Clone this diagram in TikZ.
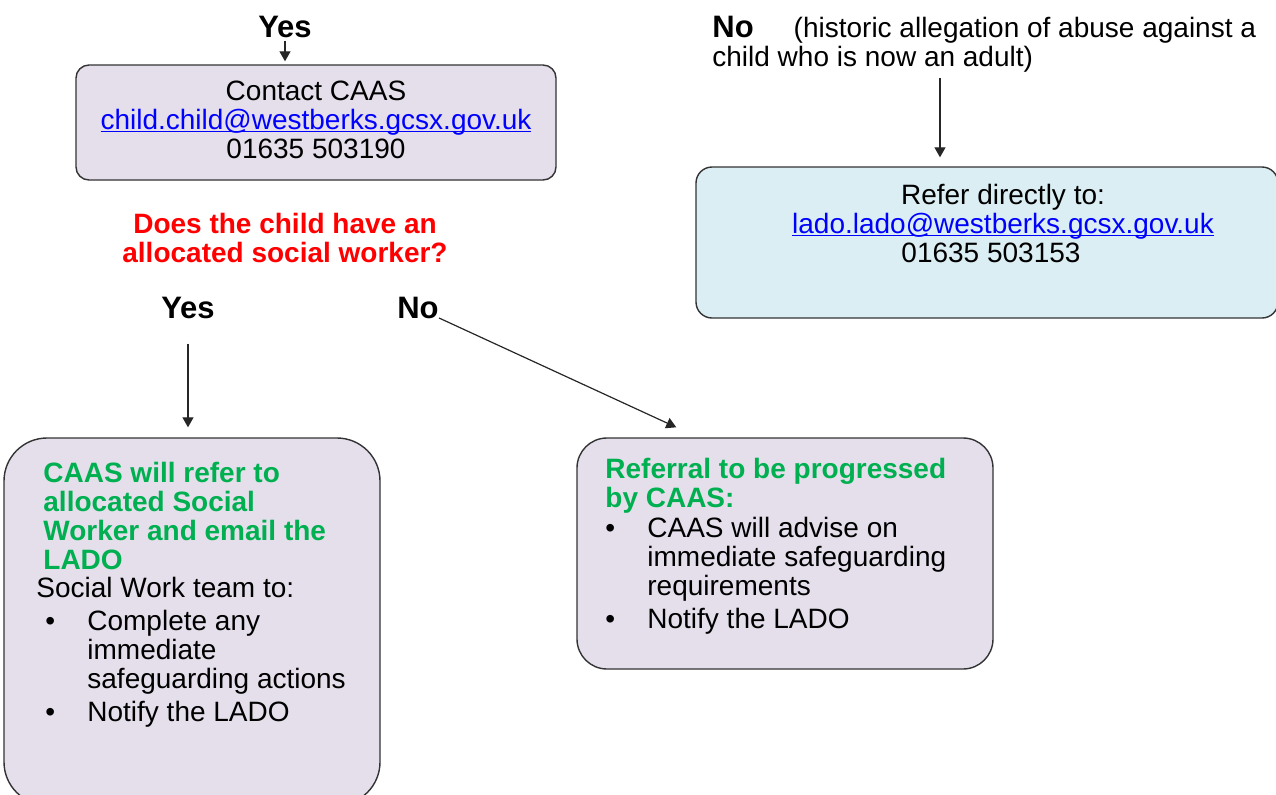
\documentclass[tikz,border=0pt]{standalone}
\usepackage{fontspec}
\setmainfont{Liberation Sans}
\usetikzlibrary{arrows.meta}

\definecolor{lilac}{HTML}{E5DFEC}
\definecolor{paleblue}{HTML}{DAEEF3}
\definecolor{caasgreen}{HTML}{00B050}
\definecolor{linkblue}{HTML}{0000FF}

\newsavebox{\mailbox}
\newcommand{\mailto}[1]{\sbox{\mailbox}{\color{linkblue}#1}%
  {\color{linkblue}\rlap{\rule[-1.6pt]{\wd\mailbox}{0.55pt}}}\usebox{\mailbox}}
\newcommand{\bul}{\hspace*{4.5pt}\makebox[21pt][l]{\textbullet}}
\newcommand{\cont}{\hspace*{25.5pt}}

\begin{document}
\begin{tikzpicture}
  [x=0.5pt,y=-0.5pt,
   every node/.style={inner sep=0pt,font=\fontsize{14}{14.5}\selectfont},
   answer/.style={font=\fontsize{15.5}{16}\selectfont\bfseries},
   heading/.style={align=left,text=caasgreen,font=\fontsize{14}{14.5}\selectfont\bfseries},
   box/.style={draw=black!80,line width=0.7pt,fill=lilac},
   arr/.style={draw=black!85,line width=0.6pt,-{Triangle[length=5pt,width=5.5pt]}}]
  \clip (0,0) rectangle (1276,794);

  % boxes
  \node[box,rounded corners=6.5pt,minimum width=240pt,minimum height=57.5pt] (caas) at (316,122.5) {};
  \node[box,fill=paleblue,rounded corners=8pt,minimum width=291pt,minimum height=75.5pt] (lado) at (987,242.5) {};
  \node[box,rounded corners=21.5pt,minimum width=188pt,minimum height=183.5pt] (social) at (192,621.5) {};
  \node[box,rounded corners=15pt,minimum width=208pt,minimum height=115.5pt] (referral) at (785,553.5) {};

  % texts (multi-line nodes sit on their last baseline)
  \node[answer,anchor=base] (yestop) at (285,37) {Yes};
  \node[anchor=base west,align=left] (historic) at (712,66)
    {{\fontsize{15.5}{16}\selectfont\bfseries No}\hspace{20pt}(historic allegation of abuse against a\\child who is now an adult)};
  \node[anchor=base,align=center] (caastext) at (316,158)
    {Contact CAAS\\\mailto{child.child@westberks.gcsx.gov.uk}\\01635 503190};
  \node[anchor=base,align=center] (ladotext) at (1003,262)
    {Refer directly to:\\\mailto{lado.lado@westberks.gcsx.gov.uk}\\01635 503153\hspace*{12pt}};
  \node[anchor=base,align=center,text=red,font=\fontsize{14}{14.5}\selectfont\bfseries] (question) at (285,262)
    {Does the child have an\\allocated social worker?};
  \node[answer,anchor=base] (yesleft) at (188,318) {Yes};
  \node[answer,anchor=base] (noright) at (418,318) {No};

  \node[heading,anchor=base west] (socialhead) at (43,569)
    {CAAS will refer to\\allocated Social\\Worker and email the\\LADO};
  \node[anchor=base west,align=left] (socialtodo) at (36,721)
    {Social Work team to:\\[2pt]
     \bul Complete any\\ \cont immediate\\ \cont safeguarding actions\\[2pt]
     \bul Notify the LADO};

  \node[heading,anchor=base west] (referralhead) at (605,507)
    {Referral to be progressed\\by CAAS:};
  \node[anchor=base west,align=left] (referraltodo) at (596,628)
    {\bul CAAS will advise on\\ \cont immediate safeguarding\\ \cont requirements\\[2pt]
     \bul Notify the LADO};

  % arrows
  \coordinate (histdrop) at (940,78);
  \draw[arr,shorten <=1.5pt,shorten >=1.5pt] (yestop.south) -- (yestop.south |- caas.north);
  \draw[arr,shorten >=4.5pt] (histdrop) -- (histdrop |- lado.north);
  \draw[arr,shorten <=12.5pt,shorten >=5pt] (yesleft.south) -- (yesleft.south |- social.north);
  \draw[arr] (noright.base east) -- ([xshift=50pt,yshift=5pt]referral.north west);
\end{tikzpicture}
\end{document}
